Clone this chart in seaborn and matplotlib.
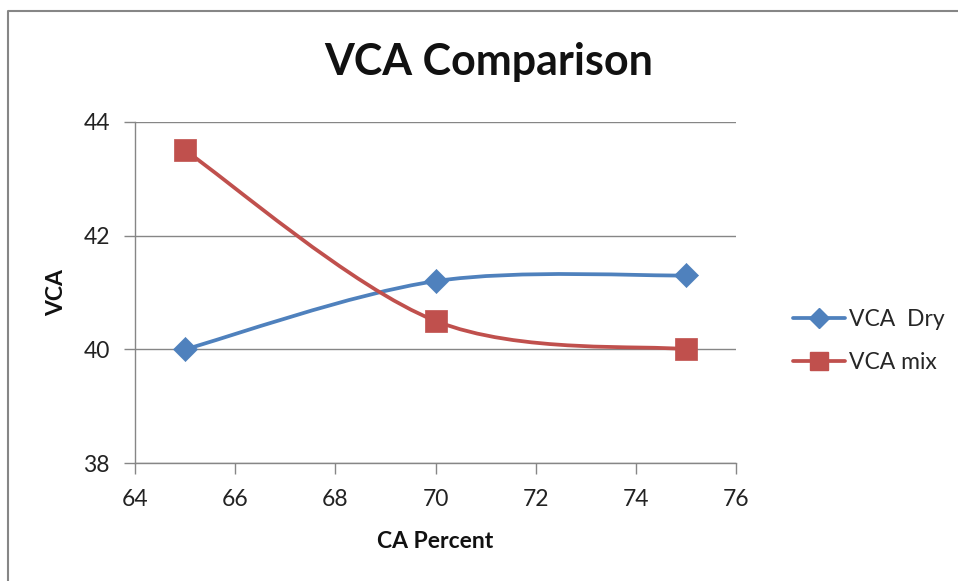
import numpy as np
import pandas as pd
import matplotlib
matplotlib.use("Agg")
import matplotlib.pyplot as plt
import seaborn as sns
from matplotlib.path import Path
from matplotlib.patches import PathPatch
from matplotlib.lines import Line2D

ca_percent = [65, 70, 75]
vca_dry = [40.0, 41.2, 41.3]
vca_mix = [43.5, 40.5, 40.0]
series_names = ["VCA  Dry", "VCA mix"]
x_ticks = [64, 66, 68, 70, 72, 74, 76]
y_ticks = [38, 40, 42, 44]

sns.set_theme(style="white")
plt.rcParams['font.family'] = ['Lato', 'DejaVu Sans']

blue = "#4F81BD"
red = "#C0504D"
gray = "#868686"

fig = plt.figure(figsize=(9.58, 5.81), dpi=100)
ax = fig.add_axes([135/958, 118/581, 601/958, 341/581])

def smooth_path(xs, ys):
    pts = np.column_stack([xs, ys]).astype(float)
    n = len(pts)
    verts = [pts[0]]
    codes = [Path.MOVETO]
    for i in range(n - 1):
        p0 = pts[i - 1] if i > 0 else pts[i]
        p1 = pts[i]
        p2 = pts[i + 1]
        p3 = pts[i + 2] if i + 2 < n else pts[i + 1]
        c1 = p1 + (p2 - p0) / 6.0
        c2 = p2 - (p3 - p1) / 6.0
        verts += [c1, c2, p2]
        codes += [Path.CURVE4] * 3
    return Path(verts, codes)

for ys, col in [(vca_dry, blue), (vca_mix, red)]:
    ax.add_patch(PathPatch(smooth_path(ca_percent, ys), facecolor="none",
                           edgecolor=col, lw=2.7, capstyle="round", zorder=3))

df = pd.DataFrame({
    "x": ca_percent * 2,
    "y": vca_dry + vca_mix,
    "series": [series_names[0]] * 3 + [series_names[1]] * 3,
})
sns.scatterplot(data=df[df.series == series_names[0]], x="x", y="y", ax=ax,
                marker="D", s=150, color=blue, edgecolor=blue, linewidth=0.5,
                zorder=4, legend=False)
sns.scatterplot(data=df[df.series == series_names[1]], x="x", y="y", ax=ax,
                marker="s", s=250, color=red, edgecolor=red, linewidth=0.5,
                zorder=4, legend=False)

ax.set_xlim(64, 76)
ax.set_ylim(38, 44)
ax.set_xticks(x_ticks)
ax.set_yticks(y_ticks)
ax.set_xticklabels([str(t) for t in x_ticks], fontsize=16.5, color="#222222")
ax.set_yticklabels([str(t) for t in y_ticks], fontsize=16.5, color="#222222")
ax.yaxis.grid(True, color=gray, lw=1)
ax.xaxis.grid(False)
for s in ["top", "right"]:
    ax.spines[s].set_visible(False)
for s in ["left", "bottom"]:
    ax.spines[s].set_color(gray)
    ax.spines[s].set_linewidth(1)
ax.tick_params(axis="both", which="major", direction="out", length=8,
               width=1, color=gray, bottom=True, left=True)
ax.tick_params(axis="x", pad=11)
ax.tick_params(axis="y", pad=10)

ax.set_xlabel("CA Percent", fontsize=16.5, fontweight="bold", labelpad=15, color="#111111")
ax.set_ylabel("VCA", fontsize=16.5, fontweight="bold", labelpad=12, color="#111111")

fig.text(489/958, 1 - 62/581, "VCA Comparison", ha="center", va="center",
         fontsize=31, fontweight="bold", color="#111111")

handles = [
    Line2D([], [], color=blue, lw=2.7, marker="D", markersize=10, label=series_names[0]),
    Line2D([], [], color=red, lw=2.7, marker="s", markersize=13, label=series_names[1]),
]
fig.legend(handles=handles, loc="center left", bbox_to_anchor=(772/958, 1 - 341/581),
           frameon=False, fontsize=16.5, handlelength=2.3, handletextpad=0.15,
           labelspacing=0.95)

# outer chart frame
fig.add_artist(Line2D([8/958, 8/958, 1.0], [0.0, 1 - 10.5/581, 1 - 10.5/581],
                      transform=fig.transFigure, color=gray, lw=1.5))

fig.savefig("out.png", dpi=100)
